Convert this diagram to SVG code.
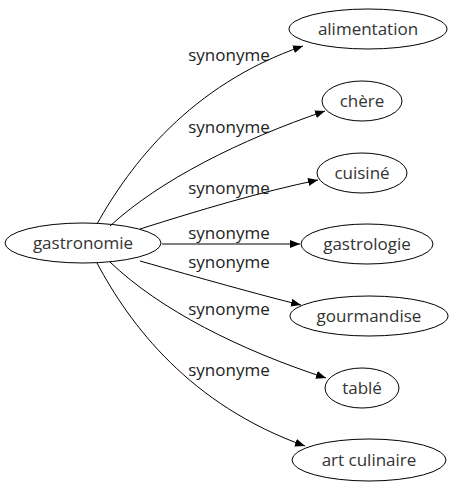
<svg xmlns="http://www.w3.org/2000/svg" width="455" height="491" viewBox="0 0 455 491">
<defs>
<marker id="arr" markerWidth="10" markerHeight="8" refX="10" refY="4" orient="auto" markerUnits="userSpaceOnUse">
<path d="M0,0 L10,4 L0,8 Z" fill="#000"/>
</marker>
<style>
.n ellipse{fill:none;stroke:#000;stroke-width:1}
.t{font-family:"Open Sans",sans-serif;font-size:17px;fill:#333;text-anchor:middle}
.e path{fill:none;stroke:#000;stroke-width:1;marker-end:url(#arr)}
.l{font-family:"Open Sans",sans-serif;font-size:17px;fill:#222;text-anchor:middle}
</style>
</defs>
<rect width="455" height="491" fill="#fff"/>
<g id="edges" class="e">
<path d="M97,224 C130,165 190,85 303,46"/>
<path d="M110,226 C160,180 240,140 325,111"/>
<path d="M140,229 C200,210 260,192 318,180"/>
<path d="M162,244 L300,244"/>
<path d="M140,261 C200,278 260,295 301,305"/>
<path d="M110,262 C160,310 240,350 326,378"/>
<path d="M97,263 C130,325 190,405 305,446"/>
</g>
<g id="labels">
<text class="l" x="229" y="61">synonyme</text>
<text class="l" x="229" y="133">synonyme</text>
<text class="l" x="229" y="194">synonyme</text>
<text class="l" x="229" y="239">synonyme</text>
<text class="l" x="229" y="268">synonyme</text>
<text class="l" x="229" y="315">synonyme</text>
<text class="l" x="229" y="376">synonyme</text>
</g>
<g id="gastronomie" class="n"><ellipse cx="83" cy="243" rx="78" ry="20"/><text class="t" x="83" y="249">gastronomie</text></g>
<g id="alimentation" class="n"><ellipse cx="368" cy="29" rx="79" ry="20"/><text class="t" x="368" y="35">alimentation</text></g>
<g id="chere" class="n"><ellipse cx="362" cy="101" rx="40" ry="20"/><text class="t" x="362" y="107">chère</text></g>
<g id="cuisine" class="n"><ellipse cx="362" cy="173" rx="45" ry="20"/><text class="t" x="362" y="179">cuisiné</text></g>
<g id="gastrologie" class="n"><ellipse cx="367" cy="244" rx="66" ry="20"/><text class="t" x="367" y="250">gastrologie</text></g>
<g id="gourmandise" class="n"><ellipse cx="369" cy="316" rx="79" ry="20"/><text class="t" x="369" y="322">gourmandise</text></g>
<g id="table" class="n"><ellipse cx="362" cy="388" rx="37" ry="20"/><text class="t" x="362" y="394">tablé</text></g>
<g id="art" class="n"><ellipse cx="369" cy="460" rx="77" ry="21"/><text class="t" x="369" y="466">art culinaire</text></g>
</svg>
